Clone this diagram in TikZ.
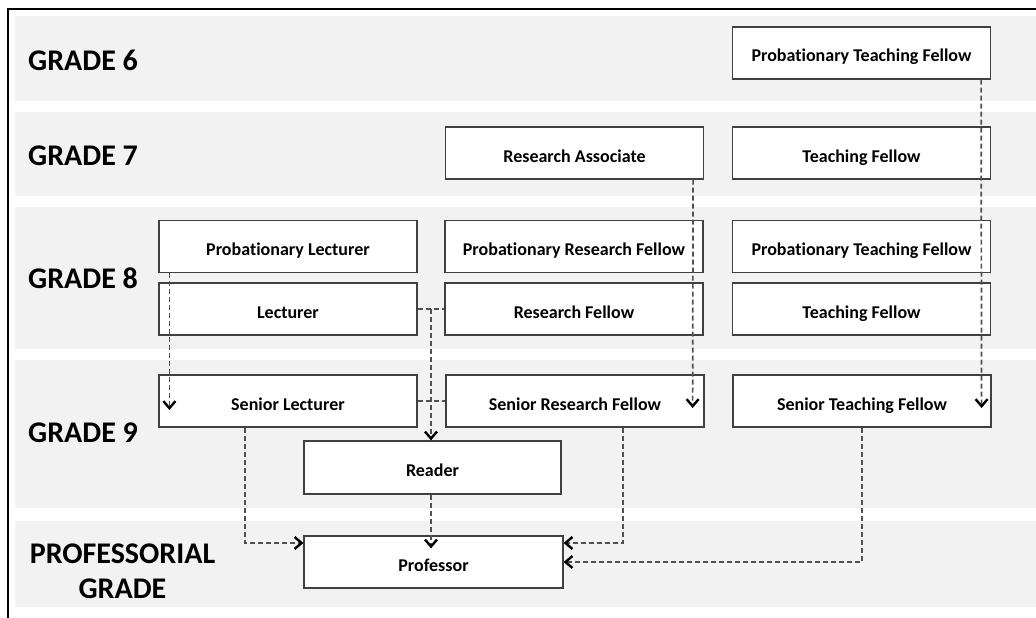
\documentclass[tikz,border=0pt]{standalone}
\usepackage{fontspec}
\setmainfont{Carlito}[Ligatures=NoCommon]
\usetikzlibrary{arrows.meta,calc}

\definecolor{bandgray}{HTML}{F2F2F2}
\definecolor{linkgray}{HTML}{505050}
\definecolor{boxline}{HTML}{404040}

\tikzset{
	band/.style={fill=bandgray, draw=none},
	rolebox/.style={draw=boxline, line width=1.2pt, fill=white, minimum width=258pt, minimum height=52pt, inner sep=0pt, text height=20pt, text depth=2pt, font=\fontsize{18}{21}\selectfont\bfseries},
	gradelabel/.style={anchor=west, inner sep=0pt, font=\fontsize{30}{35}\selectfont\bfseries},
	link/.style={draw=linkgray, line width=1.7pt, dash pattern=on 5pt off 3pt, -{Straight Barb[length=7pt,width=12pt,line width=2.4pt,color=black]}},
	dashline/.style={draw=linkgray, line width=1.7pt, dash pattern=on 5pt off 3pt}
}

\begin{document}
\begin{tikzpicture}[x=1pt, y=-1pt]
		\useasboundingbox (0,0) rectangle (1036,618);
		\fill[white] (0,0) rectangle (1036,618);
		% grade bands
		\fill[band] (15,16) rectangle (1036,101);
		\fill[band] (15,112) rectangle (1036,196);
		\fill[band] (15,207) rectangle (1036,349);
		\fill[band] (15,360) rectangle (1036,508);
		\fill[band] (15,521) rectangle (1036,607);
		\draw[line width=2pt] (8,618) -- (8,9) -- (1036,9);

		\node[gradelabel] (g6) at (28,60) {GRADE 6};
		\node[gradelabel] (g7) at (28,156) {GRADE 7};
		\node[gradelabel] (g8) at (28,278) {GRADE 8};
		\node[gradelabel] (g9) at (28,433) {GRADE 9};
		\node[font=\fontsize{30}{35}\selectfont\bfseries, align=center, inner sep=0pt] (gp) at (122.5,571) {PROFESSORIAL\\GRADE};

		\node[rolebox] (ptfsix) at (861.5,53) {Probationary Teaching Fellow};
		\node[rolebox] (ra) at (574.5,153) {Research Associate};
		\node[rolebox] (tfseven) at (861.5,153) {Teaching Fellow};
		\node[rolebox] (pl) at (288,246.5) {Probationary Lecturer};
		\node[rolebox] (prf) at (574,246.5) {Probationary Research Fellow};
		\node[rolebox] (ptfeight) at (861.5,246.5) {Probationary Teaching Fellow};
		\node[rolebox] (lec) at (288,309) {Lecturer};
		\node[rolebox] (rf) at (574,309) {Research Fellow};
		\node[rolebox] (tfeight) at (861.5,309) {Teaching Fellow};
		\node[rolebox] (sl) at (288,401) {Senior Lecturer};
		\node[rolebox] (srf) at (575,401) {Senior Research Fellow};
		\node[rolebox] (stf) at (862,401) {Senior Teaching Fellow};
		\node[rolebox, minimum width=257pt, minimum height=53pt] (reader) at (432.5,467.5) {Reader};
		\node[rolebox, minimum width=259pt] (prof) at (433.5,562) {Professor};

		\draw[link] ([xshift=-10pt]ptfsix.south east) -- ([xshift=-10pt,yshift=-7pt]stf.east);
		\draw[link] ([xshift=-11pt]ra.south east) -- ([xshift=-12pt,yshift=-7pt]srf.east);
		\draw[link] ([xshift=11pt]pl.south west) -- ([xshift=11pt,yshift=-9pt]sl.west);
		\draw[dashline] (lec.east) -- (rf.west);
		\draw[dashline] (sl.east) -- (srf.west);
		\coordinate (lecmid) at ($(lec.east)!0.5!(rf.west)$);
		\draw[link] (lecmid) -- (lecmid |- reader.north);
		\draw[link] (lecmid |- reader.south) -- ([yshift=-13pt]lecmid |- prof.north);
		\draw[link] ([xshift=-43pt]sl.south) |- ([yshift=19pt]prof.west);
		\draw[link] ([xshift=48pt]srf.south) |- ([yshift=19pt]prof.east);
		\draw[link] (stf.south) |- (prof.east);
\end{tikzpicture}
\end{document}
